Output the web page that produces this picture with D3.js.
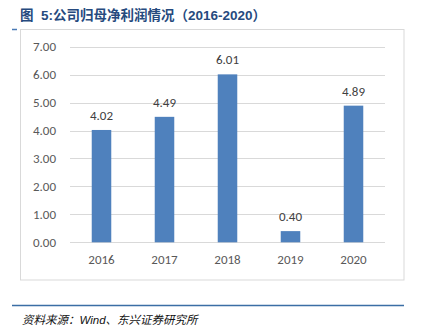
<!DOCTYPE html>
<html><head><meta charset="utf-8">
<script src="https://cdn.jsdelivr.net/npm/d3@7"></script>
<style>body{margin:0;background:#fff;} svg{display:block;}</style>
</head><body>
<script>
const categories = ["2016","2017","2018","2019","2020"];
const values = [4.02, 4.49, 6.01, 0.40, 4.89];
const yTicks = [0,1,2,3,4,5,6,7];
const title = "图  5:公司归母净利润情况（2016-2020）";
const source = "资料来源：Wind、东兴证券研究所";

const W = 422, H = 331;
const svg = d3.select("body").append("svg").attr("width", W).attr("height", H);

// title
svg.append("text").attr("x", 20).attr("y", 20).attr("xml:space", "preserve")
  .style("white-space", "pre")
  .attr("font-family", "Liberation Sans, Noto Sans CJK SC, sans-serif")
  .attr("font-size", 13.5).attr("font-weight", "bold").attr("fill", "#264a7e")
  .text(title);

// frame
svg.append("rect").attr("x", 20.5).attr("y", 29.5).attr("width", 383.5).attr("height", 250.5)
  .attr("fill", "none").attr("stroke", "#d9d9d9").attr("stroke-width", 1);
svg.append("line").attr("x1", 12).attr("x2", 17).attr("y1", 29.5).attr("y2", 29.5)
  .attr("stroke", "#4a7ab5").attr("stroke-width", 1.5);

const x = d3.scaleBand().domain(categories).range([70, 385]).paddingInner(0.69).paddingOuter(0.345);
const y = d3.scaleLinear().domain([0, 7]).range([242.3, 46.7]);

const grid = svg.append("g");
grid.selectAll("line").data(yTicks).join("line")
  .attr("x1", 70).attr("x2", 385)
  .attr("y1", d => Math.round(y(d)) + 0.5).attr("y2", d => Math.round(y(d)) + 0.5)
  .attr("stroke", "#d9d9d9").attr("stroke-width", 1);

const yAxis = d3.axisLeft(y).tickValues(yTicks).tickFormat(d3.format(".2f")).tickSize(0).tickPadding(0);
svg.append("g").attr("transform", "translate(56,0)").call(yAxis)
  .call(g => g.select(".domain").remove())
  .call(g => g.selectAll("text").attr("font-family", "Calibri, Carlito, Liberation Sans, sans-serif")
    .attr("font-size", 13).attr("fill", "#595959"));

const xAxis = d3.axisBottom(x).tickSize(0).tickPadding(0);
svg.append("g").attr("transform", "translate(0,255)").call(xAxis)
  .call(g => g.select(".domain").remove())
  .call(g => g.selectAll("text").attr("font-family", "Calibri, Carlito, Liberation Sans, sans-serif")
    .attr("font-size", 13).attr("fill", "#595959"));

svg.append("g").selectAll("rect").data(values).join("rect")
  .attr("x", (d, i) => x(categories[i]))
  .attr("width", x.bandwidth())
  .attr("y", d => y(d))
  .attr("height", d => y(0) - y(d))
  .attr("fill", "#4f81bd");

svg.append("g").selectAll("text").data(values).join("text")
  .attr("x", (d, i) => x(categories[i]) + x.bandwidth() / 2)
  .attr("y", d => y(d) - 10)
  .attr("text-anchor", "middle")
  .attr("font-family", "Calibri, Carlito, Liberation Sans, sans-serif")
  .attr("font-size", 13).attr("fill", "#404040")
  .text(d => d3.format(".2f")(d));

// footer
svg.append("line").attr("x1", 12).attr("x2", 404).attr("y1", 305.5).attr("y2", 305.5)
  .attr("stroke", "#3b6ea5").attr("stroke-width", 1.5);
svg.append("text").attr("x", 22).attr("y", 324)
  .attr("font-family", "Liberation Sans, Noto Sans CJK SC, sans-serif")
  .attr("font-size", 11.5).attr("font-style", "italic").attr("fill", "#111")
  .text(source);
</script>
</body></html>
